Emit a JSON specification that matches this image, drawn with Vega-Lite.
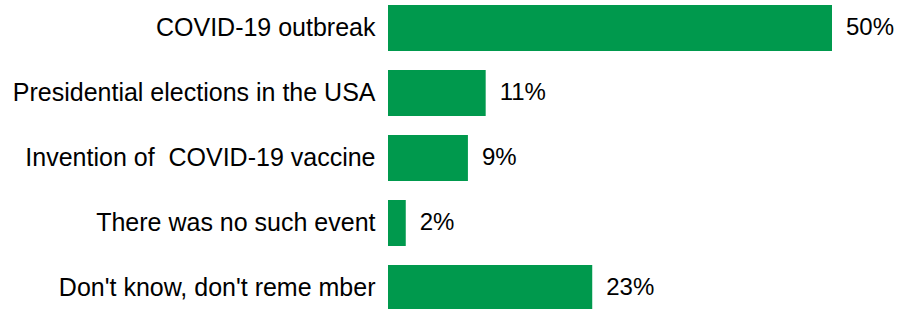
{
  "$schema": "https://vega.github.io/schema/vega-lite/v6.json",
  "width": 444,
  "height": 316,
  "autosize": "none",
  "padding": {"left": 388, "top": 0, "right": 74, "bottom": 0},
  "background": "white",
  "config": {"view": {"stroke": null}},
  "data": {
    "values": [
      {"event": "COVID-19 outbreak", "share": 0.50},
      {"event": "Presidential elections in the USA", "share": 0.11},
      {"event": "Invention of\u00a0 COVID-19 vaccine", "share": 0.09},
      {"event": "There was no such event", "share": 0.02},
      {"event": "Don't know, don't reme mber", "share": 0.23}
    ]
  },
  "encoding": {
    "y": {
      "field": "event",
      "type": "nominal",
      "sort": null,
      "scale": {"paddingInner": 0.292, "paddingOuter": 0.077},
      "axis": {
        "title": null,
        "domain": false,
        "ticks": false,
        "labelFont": "Liberation Sans",
        "labelFontSize": 25,
        "labelColor": "#000000",
        "labelPadding": 13,
        "labelLimit": 500
      }
    },
    "x": {
      "field": "share",
      "type": "quantitative",
      "scale": {"domain": [0, 0.5], "nice": false, "zero": true},
      "axis": null
    }
  },
  "layer": [
    {"mark": {"type": "bar", "color": "#00994D"}},
    {
      "mark": {
        "type": "text",
        "align": "left",
        "baseline": "middle",
        "dx": 14,
        "font": "Liberation Sans",
        "fontSize": 24,
        "color": "#000000"
      },
      "encoding": {"text": {"field": "share", "type": "quantitative", "format": ".0%"}}
    }
  ]
}
